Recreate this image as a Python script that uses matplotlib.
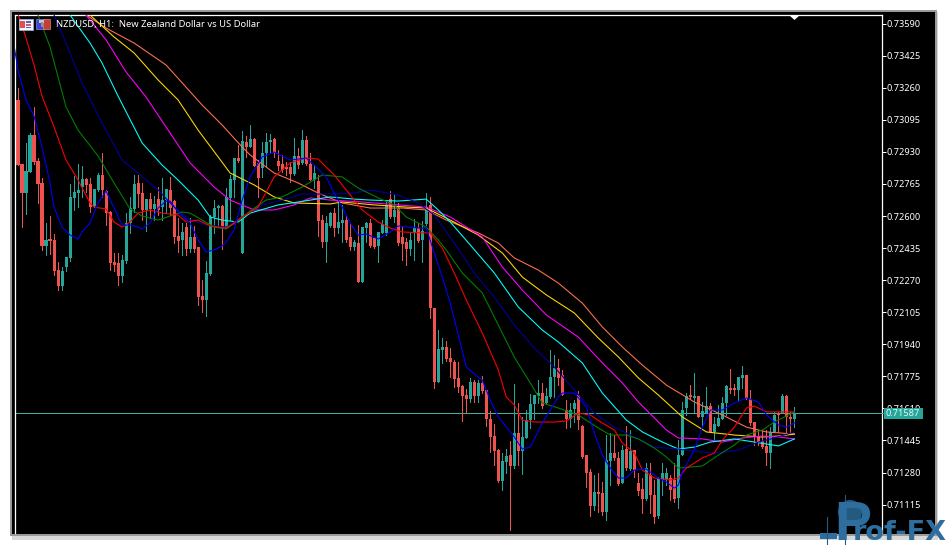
import numpy as np
import matplotlib
matplotlib.use("Agg")
import matplotlib.pyplot as plt
from matplotlib.patches import Rectangle, Circle, Polygon

# ---- data: prices in points (1e-5) ----
opens = [73552,73197,72867,72719,72827,73017,72883,72770,72446,72482,72477,72322,72240,72338,72384,72693,72719,72749,72790,72765,72651,72734,72811,72729,72620,72363,72358,72291,72368,72564,72636,72770,72718,72631,72687,72636,72687,72646,72682,72734,72677,72497,72477,72543,72430,72492,72440,72188,72168,72302,72595,72641,72651,72538,72693,72785,72898,72410,72981,72955,72996,72873,72847,72924,72981,72996,72883,72867,72852,72852,72816,72909,72873,72991,72867,72785,72780,72579,72466,72549,72615,72538,72564,72579,72492,72440,72461,72260,72538,72564,72487,72446,72513,72513,72687,72595,72641,72492,72466,72430,72513,72538,72477,72559,72657,72127,71746,71911,71926,71869,71849,71766,71725,71679,71658,71746,71674,71741,71705,71556,71468,71396,71237,71334,71370,71314,71484,71391,71458,71550,71633,71674,71689,71638,71669,71772,71818,71782,71602,71556,71607,71679,71520,71370,71283,71108,71180,71175,71077,71340,71381,71355,71226,71401,71298,71396,71226,71195,71144,71267,71164,71056,71242,71242,71252,71242,71149,71370,71612,71679,71664,71674,71566,71586,71622,71489,71520,71556,71638,71715,71715,71705,71766,71782,71658,71540,71468,71442,71417,71381,71489,71586,71586,71674,71566,71556]
highs = [73552,73259,72867,72976,73027,73161,72898,72795,72564,72600,72507,72363,72338,72389,72765,72806,72867,72857,72795,72795,72739,72821,72924,72734,72626,72409,72409,72399,72615,72698,72811,72811,72770,72687,72718,72703,72749,72795,72739,72801,72682,72590,72564,72564,72590,72549,72440,72271,72368,72605,72682,72657,72657,72744,72811,72898,72965,73037,73012,73068,73001,72888,72981,73027,73022,73001,72940,72914,72878,72878,73001,72950,73042,73012,72924,72862,72811,72605,72600,72620,72641,72667,72657,72605,72564,72477,72554,72543,72569,72585,72487,72518,72579,72682,72729,72708,72667,72543,72487,72518,72585,72564,72574,72718,72698,72127,72013,71972,71957,71921,71859,71849,71730,71710,71766,71756,71756,71777,71705,71597,71530,71401,71381,71401,71442,71736,71638,71566,71602,71684,71679,71756,71741,71715,71911,71885,71864,71808,71653,71638,71653,71700,71525,71370,71298,71267,71278,71231,71473,71484,71473,71386,71422,71520,71499,71396,71278,71252,71329,71329,71242,71257,71329,71303,71267,71329,71448,71643,71689,71730,71792,71674,71643,71720,71638,71566,71628,71669,71730,71813,71736,71772,71828,71782,71705,71540,71499,71499,71499,71514,71592,71592,71684,71679,71592,71617]
lows = [73197,72862,72543,72610,72827,72867,72667,72425,72399,72404,72296,72219,72219,72317,72368,72631,72646,72698,72723,72620,72646,72729,72698,72553,72322,72317,72245,72260,72358,72513,72620,72646,72579,72523,72590,72579,72605,72579,72620,72605,72461,72415,72399,72399,72415,72415,72142,72106,72085,72296,72513,72543,72430,72538,72579,72698,72878,72410,72904,72955,72857,72698,72801,72852,72924,72904,72837,72827,72811,72775,72811,72847,72867,72862,72785,72744,72497,72440,72363,72543,72497,72513,72466,72466,72425,72425,72260,72260,72466,72440,72435,72363,72513,72502,72590,72569,72451,72374,72348,72399,72374,72466,72363,72553,72075,71715,71746,71844,71854,71772,71720,71694,71545,71586,71643,71643,71643,71689,71520,71386,71319,71231,71190,71278,70985,71303,71319,71273,71458,71509,71556,71638,71612,71638,71664,71669,71730,71679,71509,71514,71540,71504,71355,71206,71056,71087,71077,71062,71036,71216,71345,71216,71226,71293,71293,71257,71164,71072,71139,71072,71021,71046,71164,71216,71139,71128,71098,71370,71576,71664,71592,71566,71514,71586,71489,71453,71520,71556,71576,71689,71679,71653,71715,71658,71525,71422,71422,71406,71319,71303,71489,71489,71586,71489,71489,71514]
closes = [73197,72862,72719,72832,73017,72878,72765,72446,72477,72472,72317,72240,72317,72389,72698,72723,72734,72790,72760,72646,72739,72811,72734,72615,72358,72348,72291,72374,72564,72641,72765,72713,72631,72687,72636,72662,72631,72682,72739,72641,72492,72472,72518,72430,72492,72430,72183,72168,72307,72595,72641,72651,72538,72698,72790,72898,72883,72986,72955,72996,72857,72795,72924,72981,72991,72924,72857,72837,72842,72816,72909,72862,72991,72867,72785,72821,72574,72466,72564,72615,72538,72569,72579,72477,72440,72466,72260,72543,72564,72446,72440,72518,72559,72657,72595,72631,72461,72456,72430,72477,72538,72472,72523,72641,72127,71746,71916,71926,71864,71849,71761,71720,71674,71658,71746,71674,71741,71700,71556,71463,71391,71237,71340,71365,71314,71484,71391,71463,71550,71633,71679,71689,71622,71674,71772,71818,71766,71679,71556,71602,71638,71550,71360,71278,71108,71180,71170,71077,71345,71381,71355,71221,71396,71303,71391,71293,71185,71144,71303,71164,71051,71247,71278,71278,71190,71144,71370,71602,71674,71669,71674,71566,71597,71622,71489,71530,71561,71638,71725,71705,71705,71772,71782,71658,71535,71468,71437,71412,71381,71489,71576,71576,71674,71566,71556,71586]

ma_blue_bars = [-1,0,2,4,6,8,9,11,13,15,16,18,20,22,24,26,28,30,31,33,35,37,38,40,43,45,47,49,51,52,54,56,58,61,64,68,72,74,77,79,81,83,85,87,90,93,95,100,102,104,106,108,110,112,114,116,118,120,124,126,128,131,135,136,139,142,144,146,148,150,152,154,157,160,162,164,165,166,169,171,173,176,179,182,185,187,190,192,194]
ma_blue = [73480,73351,73197,73114,72955,72770,72646,72543,72502,72482,72518,72564,72667,72729,72641,72553,72553,72543,72533,72564,72641,72677,72677,72620,72564,72477,72415,72425,72446,72466,72528,72682,72801,72904,72929,72888,72898,72862,72801,72718,72646,72564,72502,72507,72482,72518,72549,72538,72538,72410,72286,72152,71988,71823,71787,71756,71653,71566,71463,71401,71412,71535,71669,71689,71689,71617,71484,71370,71303,71252,71252,71293,71298,71252,71231,71200,71216,71283,71396,71514,71602,71602,71638,71664,71643,71576,71525,71514,71535]
ma_red_bars = [0,2,4,6,9,12,15,18,19,22,24,26,28,30,33,36,40,42,45,48,52,54,56,60,64,68,72,75,79,82,86,90,93,96,101,103,106,109,112,116,120,122,124,126,129,134,137,140,143,146,149,151,154,156,159,163,165,167,171,174,176,179,182,184,187,192,194]
ma_red = [73640,73516,73377,73217,73058,72888,72785,72667,72646,72636,72569,72543,72569,72615,72631,72615,72605,72569,72579,72549,72538,72564,72595,72646,72801,72873,72898,72893,72811,72734,72631,72569,72538,72518,72513,72513,72436,72307,72168,71998,71808,71669,71627,71550,71540,71540,71545,71586,71576,71535,71499,71432,71381,71293,71252,71242,71252,71303,71355,71381,71448,71514,71612,71622,71592,71592,71592]
ma_green_bars = [5,8,11,12,15,20,24,28,31,35,38,41,43,46,49,52,56,58,62,66,71,76,81,85,90,94,97,102,105,107,111,116,120,124,128,131,135,140,145,148,152,155,159,162,165,171,175,179,182,186,189,194]
ma_green = [73634,73470,73238,73161,73042,72909,72770,72636,72600,72579,72600,72620,72615,72579,72543,72533,72590,72626,72682,72698,72749,72811,72801,72744,72693,72657,72595,72543,72477,72425,72307,72204,72039,71874,71741,71638,71612,71576,71509,71473,71473,71453,71406,71360,71303,71314,71370,71422,71473,71499,71540,71592]
ma_navy_bars = [9,12,16,21,26,30,35,39,43,47,52,56,61,66,71,78,84,88,95,100,104,109,114,119,124,129,134,139,144,149,154,159,165,171,175,180,185,189,194]
ma_navy = [73634,73490,73284,73078,72888,72821,72734,72646,72579,72554,72543,72595,72657,72682,72713,72713,72718,72734,72708,72667,72605,72461,72307,72183,72039,71921,71823,71705,71586,71514,71463,71411,71401,71386,71381,71396,71437,71458,71489]
ma_cyan_bars = [13,18,21,25,31,36,40,45,48,51,55,58,65,70,78,84,88,95,102,105,108,113,119,125,131,135,141,146,152,156,161,165,169,173,179,184,190,194]
ma_cyan = [73634,73490,73387,73217,72976,72862,72785,72682,72595,72579,72569,72615,72657,72672,72698,72687,72682,72677,72687,72631,72569,72451,72307,72132,72013,71952,71844,71689,71550,71489,71437,71401,71411,71437,71453,71437,71417,71453]
ma_magenta_bars = [17,22,27,32,38,43,49,53,59,64,69,73,78,86,95,102,108,116,121,126,132,140,146,151,155,159,162,165,171,176,181,186,190,194]
ma_magenta = [73634,73506,73341,73212,73027,72873,72749,72682,72631,72631,72657,72693,72682,72672,72657,72646,72595,72492,72338,72219,72091,71977,71844,71741,71643,71561,71499,71458,71453,71437,71458,71468,71463,71453]
ma_gold_bars = [18,24,29,35,40,45,50,53,59,64,69,78,81,89,97,102,108,115,121,126,132,139,145,150,155,160,166,172,179,186,190,194]
ma_gold = [73634,73521,73439,73300,73197,73042,72904,72821,72760,72698,72667,72662,72672,72657,72646,72641,72579,72502,72410,72286,72194,72101,71972,71875,71767,71679,71566,71489,71473,71463,71468,71478]
ma_coral_bars = [17,22,29,37,46,51,56,58,64,70,75,81,88,96,102,107,115,120,124,130,135,141,146,151,156,162,169,176,182,187,194]
ma_coral = [73634,73567,73490,73377,73171,73068,72955,72914,72821,72770,72718,72667,72641,72641,72631,72579,72513,72461,72384,72322,72255,72152,72029,71926,71833,71730,71643,71576,71514,71489,71478]

tick_prices = [0.73590,0.73425,0.73260,0.73095,0.72930,0.72765,0.72600,0.72435,0.72270,0.72105,0.71940,0.71775,0.71610,0.71445,0.71280,0.71115]
last_price = 0.71587
title = "NZDUSD, H1:  New Zealand Dollar vs US Dollar"

UP, DOWN = "#26A69A", "#EF5350"
W, H = 947, 545
fig = plt.figure(figsize=(W/100, H/100), dpi=100, facecolor="white")

# window chrome (pixel coordinates)
bg = fig.add_axes([0, 0, 1, 1], zorder=0)
bg.set_xlim(0, W); bg.set_ylim(H, 0); bg.axis("off")
bg.add_patch(Rectangle((12, 12), 926, 528, fc="#d8d8d8", ec="none"))
bg.add_patch(Rectangle((10, 10), 927, 526, fc="#9a9a9a", ec="none"))
bg.add_patch(Rectangle((12, 12), 923, 522, fc="black", ec="none"))

# main chart
L, R, T, B = 15, 881.5, 15, 533
ax = fig.add_axes([L/W, 1-B/H, (R-L)/W, (B-T)/H], zorder=1, facecolor="black")
ax.set_xlim(-0.75, 215.75)
to_price = lambda y: (72600 + (216 - y) * 5.145) / 1e5
ax.set_ylim(to_price(B), to_price(T))

bars = np.arange(len(opens)) - 1
o, h, l, c = [np.array(v) / 1e5 for v in (opens, highs, lows, closes)]
colors = [UP if cc >= oo else DOWN for oo, cc in zip(o, c)]
ax.axhline(last_price, color="#3FAFA3", lw=0.72, zorder=1.5)
ax.vlines(bars, l, h, colors=colors, lw=0.72, zorder=2, antialiased=False)
ax.bar(bars, np.maximum(np.abs(c - o), 1e-5), bottom=np.minimum(o, c), width=0.76,
       color=colors, linewidth=0, zorder=2.1)
ma_series = [(ma_coral_bars, ma_coral, "#FF7050"), (ma_gold_bars, ma_gold, "#FFD700"),
             (ma_magenta_bars, ma_magenta, "#FF00FF"), (ma_cyan_bars, ma_cyan, "#00FFFF"),
             (ma_navy_bars, ma_navy, "#0000A0"), (ma_green_bars, ma_green, "#008000"),
             (ma_red_bars, ma_red, "#FF0000"), (ma_blue_bars, ma_blue, "#0000FF")]
for bx, vals, col in ma_series:
    ax.plot(bx, np.array(vals) / 1e5, color=col, lw=0.78, antialiased=True, zorder=3,
            solid_joinstyle="round")

ax.set_xticks([])
ax.yaxis.tick_right()
ax.set_yticks(tick_prices)
ax.set_yticklabels([f"{p:.5f}" for p in tick_prices])
ax.tick_params(axis="y", colors="white", length=3, width=0.72, pad=0.3, labelsize=6.6,
               labelfontfamily="Noto Sans")
for s in ("top", "left", "right"):
    ax.spines[s].set_color("white"); ax.spines[s].set_linewidth(0.9)
ax.spines["bottom"].set_visible(False)

# overlay: labels, marker, icons, watermark
ov = fig.add_axes([0, 0, 1, 1], zorder=2)
ov.set_xlim(0, W); ov.set_ylim(H, 0); ov.axis("off"); ov.patch.set_alpha(0)
ov.text(55.5, 24.3, title, color="white", fontsize=6.78, family="Noto Sans", va="center", ha="left")
ov.add_patch(Rectangle((881.5, 413), 3, 0.8, fc=UP, ec="none"))
ov.add_patch(Rectangle((884, 408), 39, 11, fc="#26A69A", ec="none"))
ov.text(886, 413.6, f"{last_price:.5f}", color="#e8f4f2", fontsize=6.6, family="Noto Sans", va="center")
ov.add_patch(Polygon([(789, 15), (800, 15), (794.5, 20)], fc="white", ec="none"))
# icons
ov.add_patch(Rectangle((18.5, 18.5), 14, 11, fc="#f4f4ff", ec="#9aa0c8", lw=0.7))
ov.add_patch(Rectangle((20, 21), 4.5, 7, fc="#e05050", ec="none"))
ov.add_patch(Rectangle((26, 21), 5, 1.5, fc="#5060c8", ec="none"))
ov.add_patch(Rectangle((26, 24), 5, 1.5, fc="#d06060", ec="none"))
ov.add_patch(Rectangle((26, 27), 5, 1, fc="#5060c8", ec="none"))
ov.add_patch(Rectangle((36, 19), 9, 10, fc="#3a48d8", ec="#8088e0", lw=0.5))
ov.add_patch(Rectangle((43, 19), 7, 10, fc="#c04038", ec="#e08078", lw=0.5))
ov.add_patch(Rectangle((39, 20), 5, 2.5, fc="#c8c8c8", ec="none"))
ov.add_patch(Rectangle((41, 22), 2, 5, fc="#909090", ec="none"))

LOGO = "#2E6E9E"
ov.add_patch(Rectangle((820, 533), 17, 6, fc=LOGO, ec="none"))
ov.plot([827, 827], [517, 545], color="#2a5878", lw=0.8)
ov.plot([845, 845], [495, 545], color="#2a5878", lw=0.8)
ov.text(834, 539.5, "P", color=LOGO, fontsize=40, fontweight="bold", family="Liberation Sans", va="baseline", ha="left")
ov.add_patch(Circle((850, 512), 12, fc="#245a80", ec="none"))
ov.text(853, 539.5, "rof-FX", color=LOGO, fontsize=19.5, fontweight="bold", family="DejaVu Sans", va="baseline", ha="left")

fig.savefig("out.png", dpi=100, facecolor="white")
